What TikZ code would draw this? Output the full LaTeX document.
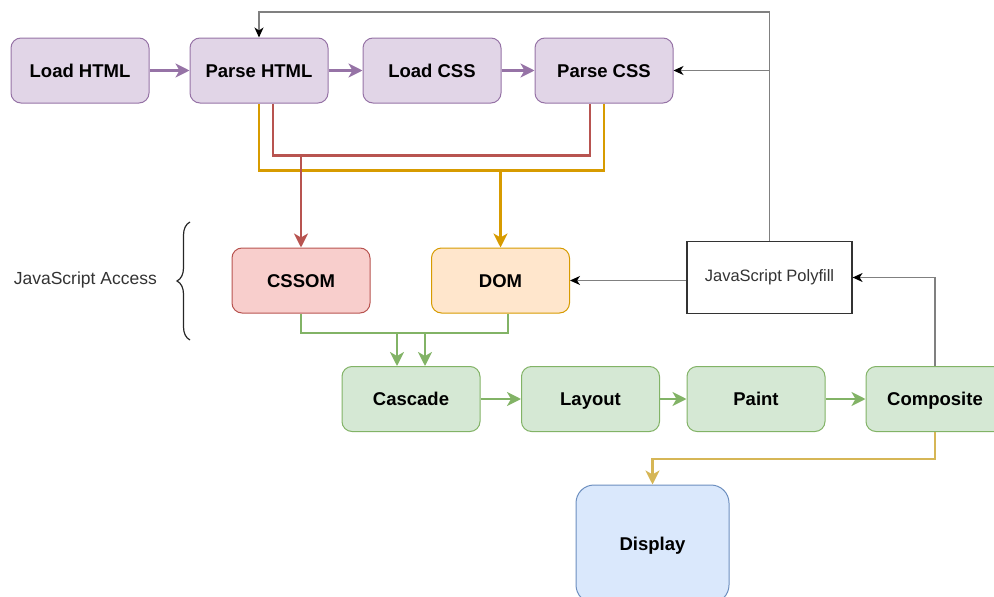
\documentclass[tikz,border=0pt]{standalone}
\usepackage{fontspec}
\setmainfont{Liberation Sans}
\usetikzlibrary{arrows.meta,decorations.pathreplacing,calc}
\definecolor{pfill}{HTML}{E1D5E7}\definecolor{pdraw}{HTML}{9673A6}
\definecolor{rfill}{HTML}{F8CECC}\definecolor{rdraw}{HTML}{B85450}
\definecolor{ofill}{HTML}{FFE6CC}\definecolor{odraw}{HTML}{D79B00}
\definecolor{gfill}{HTML}{D5E8D4}\definecolor{gdraw}{HTML}{82B366}
\definecolor{bfill}{HTML}{DAE8FC}\definecolor{bdraw}{HTML}{6C8EBF}
\definecolor{gold}{HTML}{D6B656}
\definecolor{grayline}{HTML}{808080}
\definecolor{txt}{HTML}{333333}
\tikzset{
  box/.style={rounded corners=10pt, minimum width=138pt, minimum height=65pt, line width=1pt,
    font=\fontsize{18.5}{20}\selectfont\bfseries, text=black, inner sep=0pt,
    text height=15.5pt, text depth=2.5pt},
  pbox/.style={box, fill=pfill, draw=pdraw},
  rbox/.style={box, fill=rfill, draw=rdraw},
  obox/.style={box, fill=ofill, draw=odraw},
  gbox/.style={box, fill=gfill, draw=gdraw},
  bigtip/.style={-{Stealth[length=14pt,width=14pt,inset=4pt]}},
  smalltip/.style={-{Stealth[length=10pt,width=9pt,inset=3pt,color=black]}},
  parr/.style={bigtip, draw=pdraw, line width=2.5pt},
  garr/.style={bigtip, draw=gdraw, line width=2.5pt},
  rline/.style={draw=rdraw, line width=2.6pt},
  oline/.style={draw=odraw, line width=2.6pt},
  gline/.style={draw=gdraw, line width=2.6pt},
  thin/.style={draw=grayline, line width=1.2pt},
}
\begin{document}
\begin{tikzpicture}[x=1pt,y=-1pt]
\useasboundingbox (0,0) rectangle (994,597);
% nodes
\node[pbox] (lh) at (80,70.5) {Load HTML};
\node[pbox] (ph) at (259,70.5) {Parse HTML};
\node[pbox] (lc) at (432,70.5) {Load CSS};
\node[pbox] (pc) at (604,70.5) {Parse CSS};
\node[rbox] (cssom) at (301,280.5) {CSSOM};
\node[obox] (dom) at (500.5,280.5) {DOM};
\node[draw=black!80, fill=white, line width=1.2pt, minimum width=165pt, minimum height=72pt,
  font=\fontsize{16.5}{18}\selectfont, text=txt, inner sep=0pt] (poly) at (769.5,277.5) {JavaScript Polyfill};
\node[gbox] (cas) at (411,399) {Cascade};
\node[gbox] (lay) at (590.5,399) {Layout};
\node[gbox] (pai) at (756,399) {Paint};
\node[gbox] (comp) at (935,399) {Composite};
\node[box, fill=bfill, draw=bdraw, rounded corners=18pt, minimum width=153pt, minimum height=118pt] (disp) at (652.5,544) {Display};
\node[font=\fontsize{17.5}{19}\selectfont, text=txt, inner sep=0pt, anchor=east] (jsa) at (157,280) {JavaScript Access};
\coordinate (bt) at (190,222);
\coordinate (bb) at (190,340);
\draw[black!85, line width=1.2pt, decorate, decoration={brace, amplitude=13pt, aspect=0.5}] (bb) -- (bt);
% purple flow
\draw[parr] (lh) -- (ph);
\draw[parr] (ph) -- (lc);
\draw[parr] (lc) -- (pc);
% orange and red
\draw[oline] (ph.south) -- ++(0,67) -| (pc.south);
\draw[rline] ([xshift=14pt]ph.south) -- ++(0,52) -| ([xshift=-14pt]pc.south);
\coordinate (rs) at (cssom.north |- 0,155);
\coordinate (os) at (dom.north |- 0,170);
\draw[rline, bigtip] (rs) -- (cssom.north);
\draw[oline, bigtip] (os) -- (dom.north);
% green
\coordinate (gy) at (0,333);
\draw[gline, bigtip] (cssom.south) -- (cssom.south |- gy) -| ([xshift=14pt]cas.north);
\draw[gline, bigtip] ([xshift=7.5pt]dom.south) -- ([xshift=7.5pt]dom.south |- gy) -| ([xshift=-14pt]cas.north);
\draw[garr] (cas) -- (lay);
\draw[garr] (lay) -- (pai);
\draw[garr] (pai) -- (comp);
% gold
\draw[draw=gold, line width=2.5pt, bigtip] (comp.south) -- ++(0,27) -| (disp.north);
% gray thin
\draw[thin, smalltip] (comp.north) |- (poly.east);
\draw[thin, smalltip] (poly.west |- dom.east) -- (dom.east);
\coordinate (tp) at (poly.north |- 0,12);
\draw[thin, smalltip] (poly.north) -- (tp) -| (ph.north);
\draw[thin, smalltip] (poly.north |- pc.east) -- (pc.east);
\end{tikzpicture}
\end{document}
